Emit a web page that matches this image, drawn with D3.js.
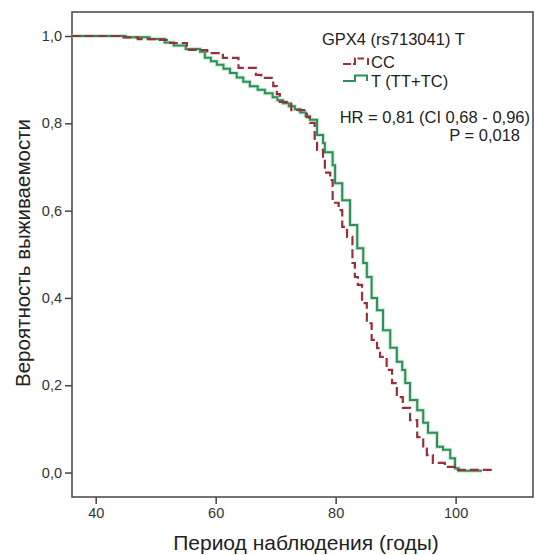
<!DOCTYPE html>
<html>
<head>
<meta charset="utf-8">
<script src="https://cdn.jsdelivr.net/npm/d3@7"></script>
<style>
  body { margin: 0; background: #fff; }
  text { font-family: "Liberation Sans", Arial, sans-serif; }
</style>
</head>
<body>
<div id="chart"></div>
<script>
// KM curves: time (years) where survival steps to the value
var ccTime = [36, 44, 47, 50.7, 52.4, 55.2, 58.6, 61.2, 63.8, 66.7, 67.6, 69.6, 70.2, 70.7, 72.6, 75.2, 75.7,
  76.5, 76.9, 77.9, 78.2, 79.1, 79.5, 80.5, 81.1, 81.9, 82.8, 83.2, 83.7, 84.4, 85.2, 86.0, 86.9, 87.4,
  88.5, 89.4, 90.2, 91.2, 92.4, 93.6, 94.6, 95.2, 96.2, 98.2, 99.9, 106.1];
var ccSurv = [1.0, 0.997, 0.993, 0.991, 0.984, 0.968, 0.961, 0.950, 0.927, 0.911, 0.904, 0.885, 0.867, 0.849, 0.830, 0.814, 0.801,
  0.760, 0.739, 0.721, 0.687, 0.670, 0.618, 0.601, 0.563, 0.540, 0.480, 0.448, 0.430, 0.388, 0.342, 0.304, 0.285, 0.265,
  0.235, 0.205, 0.173, 0.148, 0.120, 0.081, 0.055, 0.040, 0.022, 0.013, 0.006, 0.006];

var tTime = [36, 45, 49, 51.5, 53, 55, 57.4, 58.2, 59.2, 60.2, 61.3, 62.4, 63.5, 64.6, 65.7, 67, 68.2, 69.5, 70.3, 71.2,
  72.2, 73.2, 74.1, 75, 75.7, 76.9, 77.9, 78.2, 79.5, 79.9, 81.1, 82.4, 83.6, 84.6, 85.2, 86.0, 86.9, 87.9,
  89.1, 90.2, 91.1, 91.6, 92.4, 93.6, 94.6, 95.4, 96.9, 97.9, 99.1, 99.9, 100.5, 104.4];
var tSurv = [1.0, 0.997, 0.993, 0.985, 0.978, 0.970, 0.964, 0.950, 0.942, 0.934, 0.925, 0.915, 0.905, 0.895, 0.885, 0.877, 0.869, 0.860, 0.853, 0.846,
  0.839, 0.832, 0.825, 0.816, 0.808, 0.773, 0.755, 0.734, 0.704, 0.663, 0.624, 0.567, 0.514, 0.480, 0.448, 0.400, 0.372, 0.326,
  0.286, 0.254, 0.235, 0.205, 0.166, 0.143, 0.114, 0.091, 0.059, 0.052, 0.033, 0.010, 0.004, 0.004];

var xTicks = [40, 60, 80, 100];
var yTicks = [0, 0.2, 0.4, 0.6, 0.8, 1.0];

var svgWidth = 535, svgHeight = 555;
var margin = {top: 12, right: 2, bottom: 58, left: 72};
var width = svgWidth - margin.left - margin.right,
    height = svgHeight - margin.top - margin.bottom;

var svg = d3.select("#chart").append("svg")
  .attr("width", svgWidth)
  .attr("height", svgHeight);
var chart = svg.append("g")
  .attr("transform", `translate(${margin.left}, ${margin.top})`);

var x = d3.scaleLinear().domain([36.05, 112.9]).range([0, width]);
var y = d3.scaleLinear().domain([-0.056, 1.055]).range([height, 0]);

var comma = d => d3.format(".1f")(d).replace(".", ",");

// axes
var xAxis = chart.append("g")
  .attr("transform", `translate(0, ${height})`)
  .call(d3.axisBottom(x).tickValues(xTicks).tickSize(7).tickPadding(4));
var yAxis = chart.append("g")
  .call(d3.axisLeft(y).tickValues(yTicks).tickSize(7).tickPadding(3).tickFormat(comma));
[xAxis, yAxis].forEach(function(a) {
  a.select(".domain").remove();
  a.selectAll("line").attr("stroke", "#444").attr("stroke-width", 1.5);
  a.selectAll("text").attr("fill", "#333").style("font-size", "14.5px");
});

// frame
chart.append("rect")
  .attr("width", width).attr("height", height)
  .attr("fill", "none").attr("stroke", "#444").attr("stroke-width", 1.5);

// curves
var line = d3.line()
  .x(d => x(d[0]))
  .y(d => y(d[1]))
  .curve(d3.curveStepAfter);

var greenPts = tTime.map((t, i) => [t, tSurv[i]]);
var redPts = ccTime.map((t, i) => [t, ccSurv[i]]);

chart.append("path").datum(greenPts)
  .attr("d", line).attr("fill", "none")
  .attr("stroke", "#a8dcb8").attr("stroke-width", 4).attr("opacity", 0.6);
chart.append("path").datum(greenPts)
  .attr("d", line).attr("fill", "none")
  .attr("stroke", "#2f8f58").attr("stroke-width", 2);
chart.append("path").datum(redPts)
  .attr("d", line).attr("fill", "none")
  .attr("stroke", "#992f38").attr("stroke-width", 2.2)
  .attr("stroke-dasharray", "9,4");

// legend + stats
svg.append("text").attr("x", 322).attr("y", 45)
  .style("font-size", "16.5px").attr("fill", "#222").text("GPX4 (rs713041) T");

svg.append("path")
  .attr("d", "M343,64 H355 V58.5 H364")
  .attr("fill", "none").attr("stroke", "#992f38").attr("stroke-width", 2).attr("stroke-dasharray", "8,2");
svg.append("line").attr("x1", 368).attr("x2", 368).attr("y1", 58).attr("y2", 65)
  .attr("stroke", "#992f38").attr("stroke-width", 2);
svg.append("text").attr("x", 371).attr("y", 68)
  .style("font-size", "16.5px").attr("fill", "#222").text("CC");

svg.append("path")
  .attr("d", "M343,81 H355 V75.5 H367 V81")
  .attr("fill", "none").attr("stroke", "#2f8f58").attr("stroke-width", 2);
svg.append("text").attr("x", 371).attr("y", 87)
  .style("font-size", "16.5px").attr("fill", "#222").text("T (TT+TC)");

svg.append("text").attr("x", 530).attr("y", 123).attr("text-anchor", "end")
  .style("font-size", "16.5px").attr("fill", "#222").text("HR = 0,81 (CI 0,68 - 0,96)");
svg.append("text").attr("x", 520).attr("y", 141).attr("text-anchor", "end")
  .style("font-size", "16.5px").attr("fill", "#222").text("P = 0,018");

// axis titles
svg.append("text")
  .attr("transform", "translate(30, 253) rotate(-90)")
  .attr("text-anchor", "middle")
  .style("font-size", "20.5px").attr("fill", "#222")
  .text("Вероятность выживаемости");
svg.append("text")
  .attr("x", 306).attr("y", 550).attr("text-anchor", "middle")
  .style("font-size", "21px").attr("fill", "#222")
  .text("Период наблюдения (годы)");
</script>
</body>
</html>
